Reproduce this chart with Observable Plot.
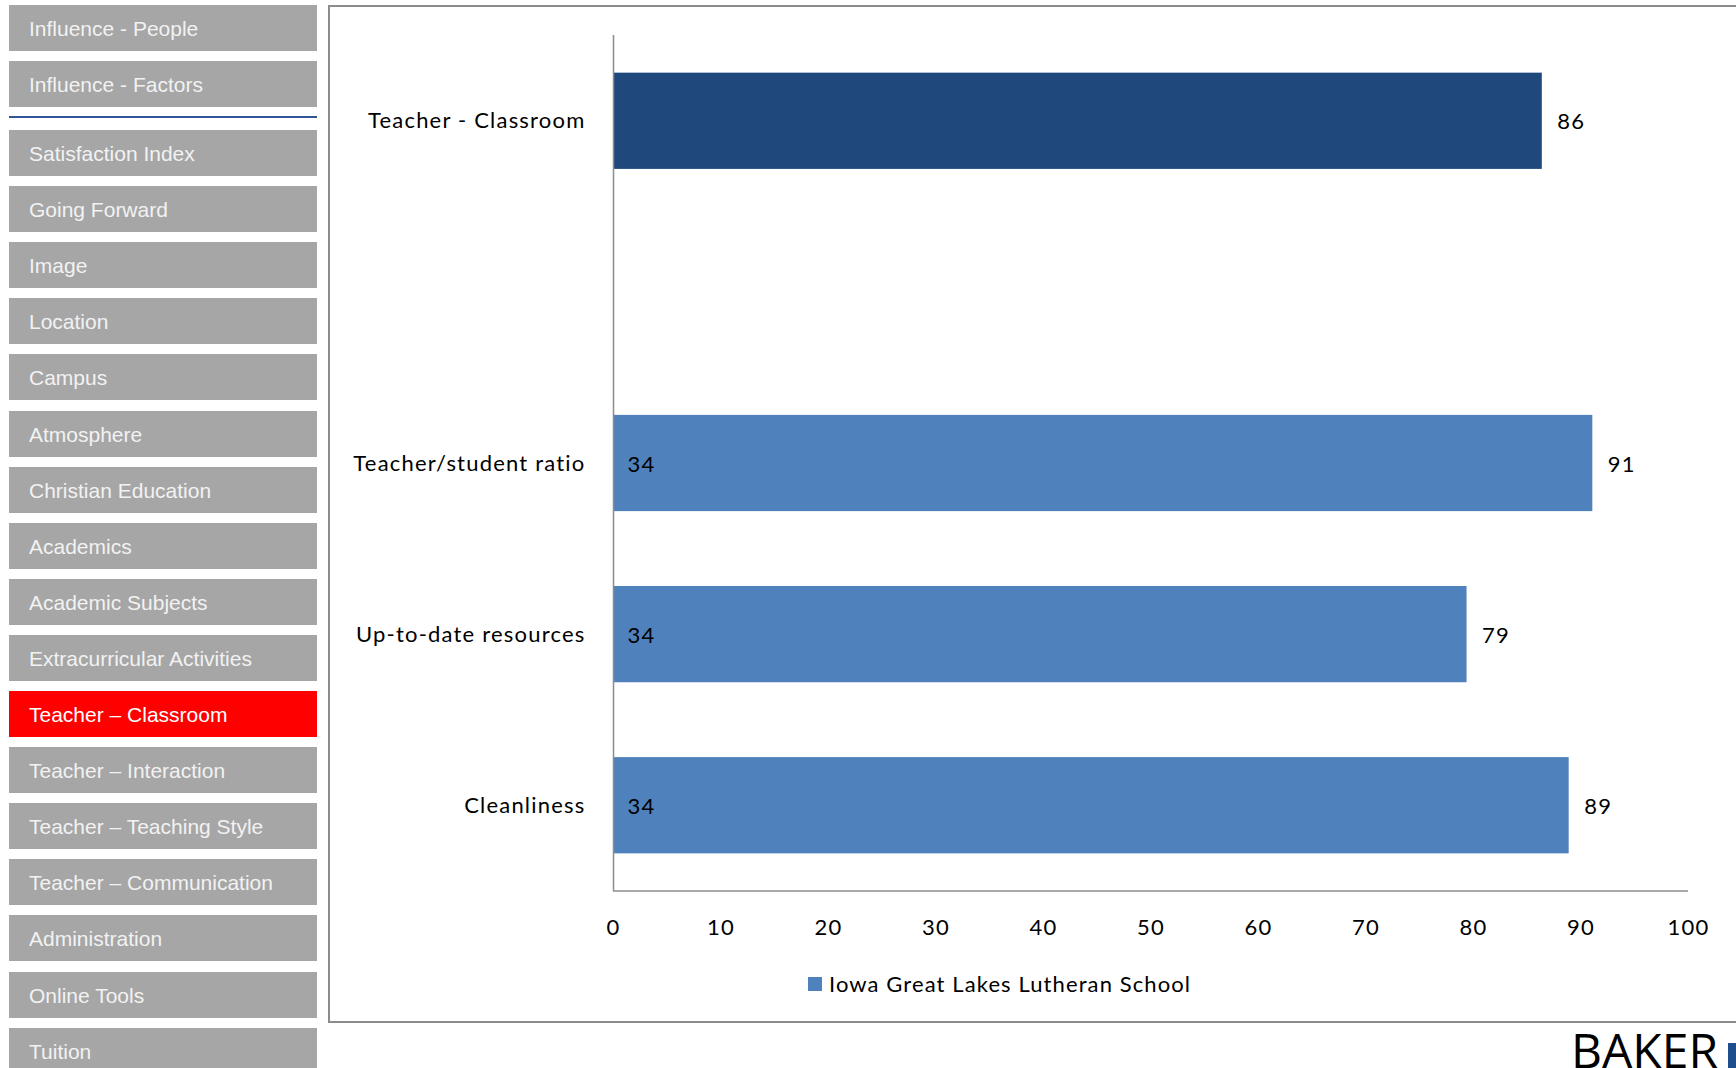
<!DOCTYPE html>
<html>
<head>
<meta charset="utf-8">
<script src="https://cdn.jsdelivr.net/npm/d3@7"></script>
<script src="https://cdn.jsdelivr.net/npm/@observablehq/plot@0.6"></script>
<style>
  html, body { margin: 0; padding: 0; background: #fff; width: 1736px; height: 1068px; overflow: hidden; position: relative; }
  .btn { position: absolute; left: 9px; width: 308px; height: 46px; background: #a6a6a6; color: #f2f2f2;
         font-family: "Liberation Sans", Arial, sans-serif; font-size: 21px; display: flex; align-items: center;
         padding-left: 20px; padding-top: 2px; box-sizing: border-box; white-space: nowrap; }
  .btn.active { background: #ff0000; color: #ffffff; }
  #sep { position: absolute; left: 9px; width: 308px; top: 116px; height: 2px; background: #2f5597; }
  #frame { position: absolute; left: 328px; top: 5px; width: 1500px; height: 1018px; border: 2px solid #8c8c8c; border-right: none; box-sizing: border-box; }
  #chart { position: absolute; left: 330px; top: 0px; }
  #legend { position: absolute; left: 808px; top: 970px; font-family: Lato, sans-serif; font-size: 22px; letter-spacing: 1.1px; color: #000; display: flex; align-items: center; }
  #legend .sw { width: 14px; height: 14px; background: #4f81bd; margin-right: 7px; }
  #baker { position: absolute; left: 1571px; top: 1017px; font-family: "Open Sans", sans-serif; font-size: 48px; color: #000; white-space: nowrap; }
  #bakerbar { position: absolute; left: 1728px; top: 1043px; width: 10px; height: 30px; background: #1f4e8c; }
</style>
</head>
<body>
<div id="frame"></div>
<div id="chart"></div>
<div id="legend"><div class="sw"></div><span id="legendText"></span></div>
<div id="baker">BAKER</div>
<div id="bakerbar"></div>
<script>
// ---- Data ----
const navItems = ["Influence - People", "Influence - Factors", "Satisfaction Index", "Going Forward", "Image", "Location", "Campus", "Atmosphere", "Christian Education", "Academics", "Academic Subjects", "Extracurricular Activities", "Teacher \u2013 Classroom", "Teacher \u2013 Interaction", "Teacher \u2013 Teaching Style", "Teacher \u2013 Communication", "Administration", "Online Tools", "Tuition"];
const activeNav = "Teacher \u2013 Classroom";
const categories = ["Teacher - Classroom", " ", "Teacher/student ratio", "Up-to-date resources", "Cleanliness"];
const values = [86.4, null, 91.1, 79.4, 88.9];
const baseLabels = [null, null, 34, 34, 34];
const highlighted = "Teacher - Classroom";
const xTicks = [0, 10, 20, 30, 40, 50, 60, 70, 80, 90, 100];
const seriesName = "Iowa Great Lakes Lutheran School";

// ---- Sidebar ----
navItems.forEach((name, i) => {
  const d = document.createElement("div");
  d.className = "btn" + (name === activeNav ? " active" : "");
  const top = i < 2 ? 5 + i * 56 : 130 + (i - 2) * 56.1;
  d.style.top = top + "px";
  d.textContent = name;
  document.body.appendChild(d);
});
const sep = document.createElement("div"); sep.id = "sep"; document.body.appendChild(sep);
document.getElementById("legendText").textContent = seriesName;

// ---- Chart ----
const rows = categories.map((c, i) => ({category: c, value: values[i], base: baseLabels[i]}));
const dark = "#1f497d", light = "#4f81bd";
const fmt = d3.format(".0f");

const bottomLine = (index, scales, vals, dims) => {
  const y = dims.height - dims.marginBottom;
  return d3.create("svg:line")
    .attr("x1", scales.x(0)).attr("x2", scales.x(100))
    .attr("y1", y).attr("y2", y)
    .attr("stroke", "#8c8c8c").attr("stroke-width", 1.5).node();
};

const chart = Plot.plot({
  width: 1406,
  height: 960,
  marginLeft: 283,
  marginRight: 48,
  marginTop: 35,
  marginBottom: 69,
  style: {fontFamily: "Lato, sans-serif", fontSize: "22px", letterSpacing: "1.2px", color: "#000", background: "transparent"},
  x: {domain: [0, 100], ticks: xTicks, tickSize: 0, tickPadding: 28, label: null},
  y: {domain: categories, paddingInner: 0.4375, paddingOuter: 0.22, round: false, tickSize: 0, tickPadding: 28, label: null},
  marks: [
    Plot.barX(rows.filter(d => d.value != null), {x: "value", y: "category", fill: d => d.category === highlighted ? dark : light}),
    Plot.ruleX([0], {stroke: "#8c8c8c", strokeWidth: 1.5}),
    bottomLine,
    Plot.text(rows.filter(d => d.value != null), {x: "value", y: "category", text: d => fmt(d.value), dx: 15, dy: 1, textAnchor: "start", fill: "#000", fontSize: 22}),
    Plot.text(rows.filter(d => d.base != null), {x: d => 0, y: "category", text: d => String(d.base), dx: 14, dy: 1, textAnchor: "start", fill: "#000", fontSize: 22})
  ]
});
document.getElementById("chart").appendChild(chart);
</script>
</body>
</html>
